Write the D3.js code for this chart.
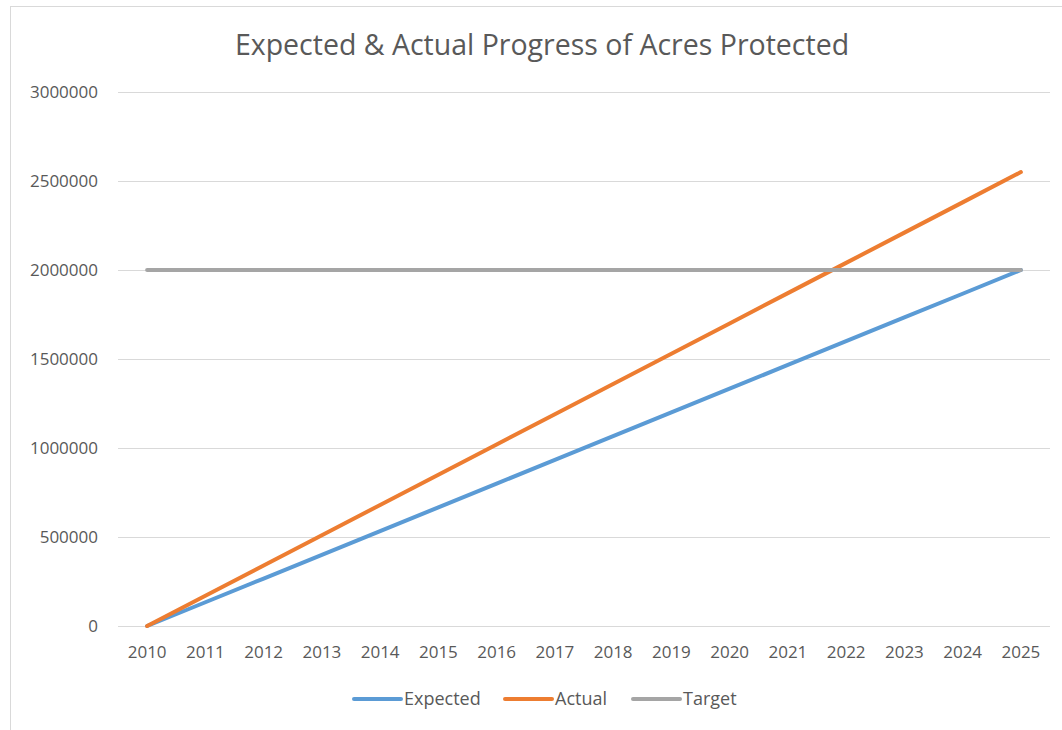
<!DOCTYPE html>
<html>
<head>
  <meta charset="utf-8">
  <title>Expected & Actual Progress of Acres Protected</title>
  <script src="https://d3js.org/d3.v7.min.js"></script>
  <style>
    body { margin: 0; background: #fff; }
    svg text { font-family: "Open Sans", "Noto Sans", sans-serif; fill: #595959; }
    .grid line { stroke: #d9d9d9; stroke-width: 1; }
  </style>
</head>
<body>
  <svg id="chart" width="1062" height="730"></svg>
  <script>
    // data
    var years = ["2010", "2011", "2012", "2013", "2014", "2015", "2016", "2017",
                 "2018", "2019", "2020", "2021", "2022", "2023", "2024", "2025"];
    var expected = [0, 133333, 266667, 400000, 533333, 666667, 800000, 933333,
                    1066667, 1200000, 1333333, 1466667, 1600000, 1733333, 1866667, 2000000];
    var actual = [0, 170000, 340000, 510000, 680000, 850000, 1020000, 1190000,
                  1360000, 1530000, 1700000, 1870000, 2040000, 2210000, 2380000, 2550000];
    var target = [2000000, 2000000, 2000000, 2000000, 2000000, 2000000, 2000000, 2000000,
                  2000000, 2000000, 2000000, 2000000, 2000000, 2000000, 2000000, 2000000];
    var yTicks = [0, 500000, 1000000, 1500000, 2000000, 2500000, 3000000];

    var series = [
      { name: "Expected", values: expected, color: "#5b9bd5" },
      { name: "Actual", values: actual, color: "#ed7d31" },
      { name: "Target", values: target, color: "#a5a5a5" }
    ];

    var svg = d3.select("#chart");

    // chart border
    svg.append("rect")
      .attr("x", 10.5).attr("y", 6.5)
      .attr("width", 1100).attr("height", 800)
      .attr("fill", "none").attr("stroke", "#d9d9d9");

    var margin = { top: 92, left: 118 };
    var width = 932, height = 534;

    var g = svg.append("g")
      .attr("transform", "translate(" + margin.left + "," + margin.top + ")");

    var x = d3.scaleBand().domain(years).range([0, width]);
    var y = d3.scaleLinear().domain([0, 3000000]).range([height, 0]);

    // gridlines
    g.append("g").attr("class", "grid")
      .selectAll("line").data(yTicks).enter().append("line")
      .attr("x1", 0).attr("x2", width)
      .attr("y1", function (d) { return Math.round(y(d)) + 0.5; })
      .attr("y2", function (d) { return Math.round(y(d)) + 0.5; });

    // y axis labels
    var yAxis = g.append("g")
      .call(d3.axisLeft(y).tickValues(yTicks).tickFormat(d3.format("d")).tickSize(0).tickPadding(20));
    yAxis.select(".domain").remove();
    yAxis.selectAll("text").style("font-size", "17px").attr("fill", "#595959");

    // x axis labels
    var xAxis = g.append("g")
      .attr("transform", "translate(0," + height + ")")
      .call(d3.axisBottom(x).tickSize(0).tickPadding(20));
    xAxis.select(".domain").remove();
    xAxis.selectAll("text").style("font-size", "17px").attr("fill", "#595959");

    // lines
    var line = d3.line()
      .x(function (d, i) { return x(years[i]) + x.bandwidth() / 2; })
      .y(function (d) { return y(d); });

    g.selectAll(".series").data(series).enter().append("path")
      .attr("class", "series")
      .attr("d", function (s) { return line(s.values); })
      .attr("fill", "none")
      .attr("stroke", function (s) { return s.color; })
      .attr("stroke-width", 4)
      .attr("stroke-linecap", "round")
      .attr("stroke-linejoin", "round");

    // title
    svg.append("text")
      .attr("x", 542).attr("y", 55)
      .attr("text-anchor", "middle")
      .style("font-size", "28.5px")
      .text("Expected & Actual Progress of Acres Protected");

    // legend
    var legendX = [354, 505, 633];
    var legend = svg.selectAll(".legend").data(series).enter().append("g")
      .attr("class", "legend")
      .attr("transform", function (s, i) { return "translate(" + legendX[i] + ",699)"; });
    legend.append("line")
      .attr("x1", 0).attr("x2", 47)
      .attr("stroke", function (s) { return s.color; })
      .attr("stroke-width", 4)
      .attr("stroke-linecap", "round");
    legend.append("text")
      .attr("x", 50).attr("y", 6)
      .style("font-size", "18px")
      .text(function (s) { return s.name; });
  </script>
</body>
</html>
